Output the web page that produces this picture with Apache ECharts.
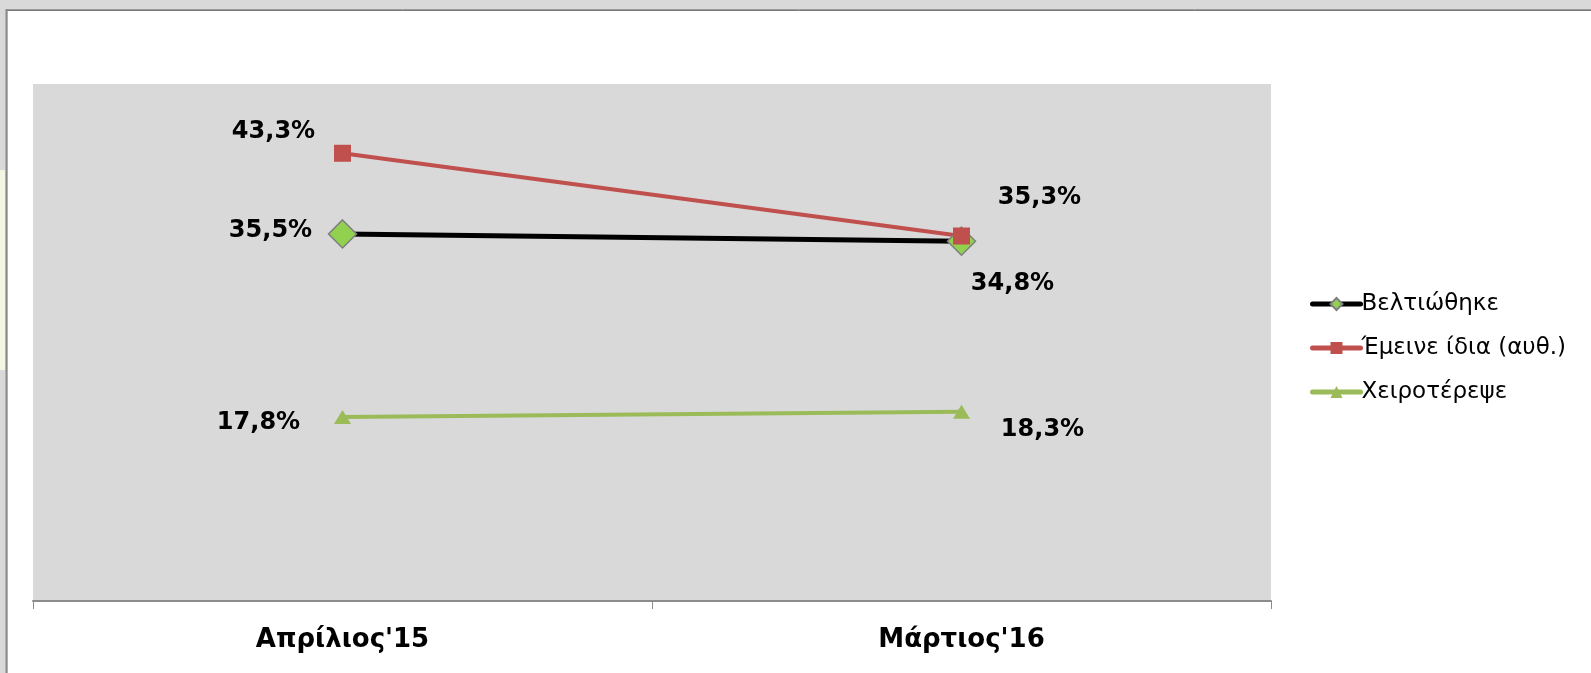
<!DOCTYPE html>
<html>
<head>
<meta charset="utf-8">
<script src="https://cdn.jsdelivr.net/npm/echarts@6/dist/echarts.min.js"></script>
<style>
  html, body { margin: 0; padding: 0; background: #d9d9d9; }
  #chart { width: 1591px; height: 673px; }
</style>
</head>
<body>
<div id="chart"></div>
<script>
const categories = ["Απρίλιος'15", "Μάρτιος'16"];
const seriesNames = ['Βελτιώθηκε', 'Έμεινε ίδια (αυθ.)', 'Χειροτέρεψε'];
const improved = [35.5, 34.8];
const same = [43.3, 35.3];
const worse = [17.8, 18.3];

// label offsets from the marker, per point
const improvedOffsets = [[-72, -3], [51, 43]];
const sameOffsets = [[-69, -22], [78, -38]];
const worseOffsets = [[-84, 6], [81, 18]];

const fmt = v => v.toFixed(1).replace('.', ',') + '%';

function points(values, offsets) {
    return values.map((v, i) => ({
        value: v,
        label: {offset: offsets[i]}
    }));
}

const labelStyle = {
    show: true,
    position: 'inside',
    formatter: p => fmt(p.value),
    fontFamily: 'DejaVu Sans',
    fontWeight: 'bold',
    fontSize: 24,
    color: '#000'
};

const chart = echarts.init(document.getElementById('chart'));

chart.setOption({
    animation: false,
    backgroundColor: '#d9d9d9',
    graphic: [
        // white frame
        {type: 'rect', shape: {x: 8, y: 11, width: 1600, height: 700}, style: {fill: '#fff'}, z: -10},
        {type: 'line', shape: {x1: 6, y1: 9.5, x2: 1591, y2: 9.5}, style: {stroke: '#9a9a9a', lineWidth: 1}, z: -9},
        {type: 'line', shape: {x1: 6, y1: 10.5, x2: 1591, y2: 10.5}, style: {stroke: '#7a7a7a', lineWidth: 1}, z: -9},
        {type: 'line', shape: {x1: 6.5, y1: 9, x2: 6.5, y2: 673}, style: {stroke: '#8a8a8a', lineWidth: 2}, z: -9},
        // pale strip on left edge
        {type: 'rect', shape: {x: 0, y: 170, width: 5, height: 200}, style: {fill: '#f1f7e3'}, z: -9}
    ],
    grid: {
        left: 33, top: 84, width: 1238, height: 517,
        show: true, backgroundColor: '#d9d9d9', borderWidth: 0
    },
    legend: {
        orient: 'vertical',
        left: 1305, top: 287,
        itemWidth: 48, itemHeight: 15,
        itemGap: 20,
        lineStyle: {width: 5, cap: 'round'},
        textStyle: {fontFamily: 'DejaVu Sans', fontSize: 23, color: '#000', lineHeight: 24, padding: [0, 0, 0, -4]},
        data: seriesNames
    },
    xAxis: {
        type: 'category',
        data: categories,
        boundaryGap: true,
        axisLine: {lineStyle: {color: '#8c8c8c', width: 2}},
        axisTick: {show: true, length: 8, lineStyle: {color: '#8c8c8c'}},
        axisLabel: {
            fontFamily: 'DejaVu Sans', fontWeight: 'bold', fontSize: 26,
            color: '#000', margin: 26
        }
    },
    yAxis: {
        type: 'value',
        min: 0, max: 50, interval: 10,
        show: false,
        splitLine: {show: false}
    },
    series: [
        {
            name: seriesNames[0],
            type: 'line',
            data: points(improved, improvedOffsets),
            symbol: 'diamond',
            symbolSize: 28,
            lineStyle: {color: '#000', width: 5},
            itemStyle: {color: '#92d050', borderColor: '#7f7f7f', borderWidth: 1.5},
            label: labelStyle
        },
        {
            name: seriesNames[1],
            type: 'line',
            data: points(same, sameOffsets),
            symbol: 'rect',
            symbolSize: 17,
            lineStyle: {color: '#c0504d', width: 4},
            itemStyle: {color: '#c0504d'},
            label: labelStyle
        },
        {
            name: seriesNames[2],
            type: 'line',
            data: points(worse, worseOffsets),
            symbol: 'triangle',
            symbolSize: [17, 14],
            lineStyle: {color: '#9bbb59', width: 4},
            itemStyle: {color: '#9bbb59'},
            label: labelStyle
        }
    ]
});
</script>
</body>
</html>
